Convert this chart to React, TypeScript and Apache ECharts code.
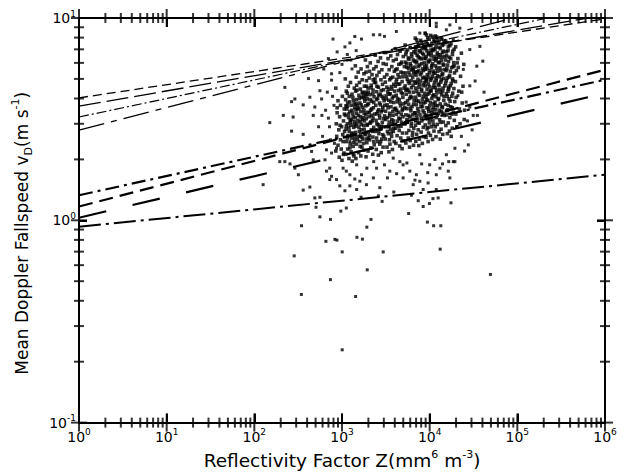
import React, { useEffect, useRef } from 'react';
import * as echarts from 'echarts';

// ---- axis ranges / ticks ----
const xRange = [1, 1e6];
const yRange = [0.1, 10];
const xMajorTicks = [1, 10, 100, 1000, 10000, 100000, 1000000];
const yMajorTicks = [0.1, 1, 10];
const minorMultipliers = [2, 3, 4, 5, 6, 7, 8, 9];
const xDecades = [1, 10, 100, 1000, 10000, 100000];
const yDecades = [0.1, 1];

// ---- power-law reference lines: [Z, v] end points ----
const lineA = [[1, 4.03], [1e6, 9.9]];      // short dashes (top)
const lineB = [[1, 3.67], [6.4e5, 10]];     // long dashes
const lineC = [[1, 3.24], [2.2e5, 10]];     // thin dash-dot
const lineD = [[1, 2.79], [9.0e4, 10]];     // long-short dashes
const lineE = [[1, 1.33], [1e6, 4.95]];     // heavy dash-dot
const lineF = [[1, 1.17], [1e6, 5.55]];     // heavy dashes
const lineG = [[1, 1.03], [1e6, 4.25]];     // heavy long dashes
const lineH = [[1, 0.93], [1e6, 1.68]];     // lowest dash-dot

// ---- observations: [Z (mm^6 m^-3), v_D (m/s)] ----
const sparseLeft = [
  [150,3.04],[126,1.5],[214,3.3],[266,3.86],[277,3.24],[223,4.54],[290,3.98],[361,3.72],[414,5.02],[430,4.06],
  [470,3.3],[490,3.63],[560,4.37],[585,3.98],[345,0.94],[285,0.667],[344,0.43],[505,1.16],[560,1.04],[740,1.01],
  [655,0.787],[738,0.509],[790,7.87],[760,4.93],[266,2.76],[361,2.66],[450,2.19],[223,1.95],[195,1.95],[255,1.9],
  [290,1.81],[318,1.68],[361,1.41],[430,1.46],[490,1.29],[560,1.3],[665,1.75],[725,1.81],[760,1.65],[725,1.59],
  [640,1.99],[470,1.99],[665,2.23],[620,5.6],[700,6.3],[540,4.9],[760,5.3],[650,3.5],[720,2.9],[600,2.6],
  [780,4.1],[820,2.4],[700,3.2],[760,2.15],[540,2.9],[680,4.3],[810,3.7],[590,3.3],[740,2.5]
];
const sparseLow = [
  [865,1.59],[945,1.48],[1080,1.4],[1230,1.48],[1470,1.42],[1600,1.56],[1670,1.68],[1230,1.68],[1030,1.81],[1470,1.88],
  [1920,1.81],[970,1.11],[1120,1.15],[1920,0.925],[1340,2.11],[1030,2.11],[865,2.27],[1230,2.45],[1600,2.59],
  [2870,1.24],[5760,1.08],[8430,1.17],[9420,0.98],[11100,0.94],[13400,0.94],[17500,1.22],[2140,1.01],[9940,1.21],[12500,1.29],[10900,1.28],
  [2280,1.62],[2480,1.81],[3050,1.88],[3510,1.75],[4570,1.95],[4980,1.62],[5940,1.75],[7050,1.68],[7720,1.56],[9600,1.53],
  [11900,1.68],[13100,1.81],[16300,1.75],[17000,1.62],[18600,1.95],[11900,1.42],[8430,1.42],[6490,1.5],[2700,1.45],[19400,2.27],
  [15500,2.11],[4980,1.88],[3840,2.03],[7720,2.11],[10000,1.88],
  [1005,0.698],[2950,0.698],[13180,0.72],[1480,0.824],[1710,0.807],[830,0.805],[875,0.798],[1940,0.569],[1430,0.42],[1005,0.229],[49300,0.54],
  [1120,1.75],[1400,1.6],[1900,1.5],[2300,1.95],[3300,1.62],[4200,1.7],[5500,1.92],[6800,1.58],[8100,1.9],
  [9500,1.72],[11500,2.0],[14000,1.9],[16500,1.95],[3900,1.38],[6200,1.33],[7400,1.25],[2600,1.32],[1650,1.3]
];
const sparseHigh = [
  [945,5.37],[1230,7.53],[1670,7.87],[2700,8.26],[4170,8.58],[8880,8.42],[11900,9.07],[17000,9.24],[28700,6.98],[37400,7.24],
  [40400,6.12],[33000,4.88],[41700,4.3],[28700,3.63],[35000,3.3],[20300,2.9],[27600,2.36],[19400,1.95],[2280,8.26],[3050,8.11],
  [7720,8.42],[11900,9.42],[15500,8.74],[22100,8.91],[18600,7.81],[34500,5.78],[24200,5.57],[28700,4.62],[21000,4.13],[26100,3.84],
  [31400,3.3],[880,6.8],[1000,5.9],[1150,6.6],[1300,5.6],[1450,6.9],[1080,7.2],[1400,8.1],[1260,6.2],[23000,2.6],
  [27000,3.1],[25000,2.2],[30500,2.8]
];
const coreA = [
  [850,4.5],[1010,4.1],[900,3.9],[960,3.7],[1060,3.55],[880,3.4],[940,3.25],[1040,3.1],[860,3.0],[990,2.9],
  [920,2.8],[1070,2.75],[870,2.6],[960,2.5],[1030,2.45],[900,2.35],[980,2.25],[850,2.2],[1050,2.15],[930,2.05],
  [1000,1.98],[880,3.6],[1065,3.35],[950,2.95],[1020,2.65],
  [1090,5.0],[1250,4.8],[1180,4.6],[1380,4.5],[1120,4.35],[1300,4.2],[1210,4.1],[1100,3.95],[1350,3.9],[1160,3.8],
  [1270,3.7],[1400,3.62],[1130,3.55],[1230,3.45],[1330,3.38],[1095,3.3],[1190,3.22],[1290,3.15],[1390,3.08],[1150,3.0],
  [1260,2.95],[1360,2.88],[1110,2.82],[1210,2.75],[1320,2.7],[1170,2.62],[1280,2.55],[1390,2.5],[1120,2.45],[1240,2.38],
  [1340,2.32],[1160,2.25],[1270,2.18],[1100,2.12],[1370,2.08],[1200,2.02],[1310,1.96],[1150,3.65],[1250,3.05],[1400,2.6]
];
const coreB = [
  [1420,5.8],[1650,5.6],[1530,5.4],[1780,5.3],[1450,5.1],[1700,4.95],[1580,4.8],[1470,4.65],[1800,4.6],[1620,4.45],
  [1430,4.35],[1740,4.25],[1560,4.15],[1680,4.05],[1460,3.95],[1820,3.88],[1600,3.8],[1500,3.7],[1720,3.62],[1440,3.52],
  [1640,3.45],[1790,3.38],[1540,3.3],[1420,3.22],[1700,3.15],[1610,3.08],[1480,3.0],[1760,2.95],[1560,2.88],[1660,2.8],
  [1430,2.72],[1810,2.68],[1520,2.6],[1730,2.52],[1600,2.45],[1460,2.38],[1690,2.3],[1780,2.22],[1550,2.16],[1640,2.08],
  [1440,2.02],[1750,4.1],[1510,3.55],[1630,2.65],[1800,3.1],
  [1850,6.2],[2100,6.0],[1950,5.75],[2300,5.6],[1880,5.4],[2200,5.25],[2050,5.05],[1900,4.9],[2340,4.8],[2150,4.65],
  [1980,4.5],[2260,4.4],[1860,4.3],[2080,4.18],[2320,4.08],[1940,3.98],[2190,3.88],[2010,3.78],[1870,3.68],[2280,3.6],
  [2120,3.5],[1960,3.42],[2350,3.35],[2040,3.25],[1890,3.18],[2220,3.1],[2090,3.02],[1930,2.95],[2300,2.88],[2160,2.8],
  [1990,2.72],[1860,2.65],[2250,2.58],[2070,2.5],[1920,2.42],[2330,2.36],[2130,2.28],[1980,2.2],[2240,2.12],[1880,2.06],
  [2060,5.45],[2270,4.95],[1920,4.2],[2180,3.3],[2000,2.55]
];
const coreC = [
  [2400,6.55],[2750,6.35],[2580,6.1],[2950,5.95],[2450,5.75],[2850,5.55],[2650,5.4],[2500,5.2],[3050,5.1],[2780,4.95],
  [2420,4.8],[2900,4.7],[2600,4.55],[2980,4.42],[2480,4.32],[2720,4.2],[2860,4.1],[2550,4.0],[3020,3.9],[2680,3.8],
  [2430,3.7],[2920,3.62],[2620,3.52],[2800,3.44],[2500,3.36],[3060,3.28],[2700,3.2],[2450,3.12],[2880,3.05],[2580,2.97],
  [2960,2.9],[2760,2.82],[2410,2.75],[2640,2.68],[3000,2.6],[2840,2.52],[2530,2.45],[2700,2.38],[2940,2.3],[2460,2.24],
  [2800,2.16],[2600,2.1],[2380,5.0],[3080,3.7],[2660,2.9],
  [3150,6.75],[3600,6.5],[3350,6.3],[3850,6.15],[3200,5.9],[3700,5.75],[3450,5.55],[3950,5.45],[3250,5.25],[3800,5.1],
  [3500,4.95],[3120,4.82],[3900,4.7],[3650,4.58],[3380,4.45],[3980,4.35],[3550,4.22],[3180,4.12],[3750,4.02],[3420,3.92],
  [3880,3.82],[3280,3.72],[3620,3.64],[3960,3.55],[3150,3.46],[3500,3.38],[3820,3.3],[3300,3.22],[3700,3.14],[3460,3.06],
  [3920,2.98],[3220,2.9],[3580,2.82],[3850,2.75],[3380,2.68],[3680,2.6],[3120,2.52],[3940,2.45],[3520,2.38],[3260,2.3],
  [3760,2.24],[3430,2.18],[3600,5.05],[3330,4.3],[3870,3.1]
];
const coreD = [
  [4050,7.05],[4600,6.85],[4300,6.6],[5000,6.45],[4150,6.25],[4800,6.05],[4450,5.9],[5150,5.75],[4100,5.55],[4700,5.4],
  [4350,5.25],[4950,5.12],[4200,4.98],[4850,4.85],[4550,4.72],[4050,4.6],[5100,4.5],[4400,4.38],[4750,4.28],[4150,4.15],
  [4950,4.05],[4500,3.95],[4250,3.85],[5050,3.76],[4650,3.68],[4080,3.58],[4850,3.5],[4400,3.42],[4180,3.34],[4950,3.25],
  [4600,3.17],[4300,3.09],[5120,3.0],[4720,2.92],[4050,2.85],[4500,2.78],[4900,2.7],[4250,2.62],[4680,2.55],[5000,2.47],
  [4120,2.4],[4550,2.33],[4850,2.26],[4350,4.7],[4750,3.35],
  [5250,7.35],[6000,7.15],[5600,6.95],[6600,6.8],[5350,6.6],[6250,6.45],[5800,6.25],[6700,6.1],[5450,5.95],[6100,5.8],
  [5700,5.65],[6500,5.5],[5300,5.35],[5950,5.22],[6400,5.1],[5550,4.98],[6750,4.85],[5850,4.75],[5250,4.62],[6200,4.52],
  [5650,4.4],[6550,4.3],[5400,4.2],[6050,4.1],[5900,4.0],[6650,3.9],[5300,3.82],[5750,3.74],[6300,3.65],[5500,3.56],
  [6100,3.48],[6700,3.4],[5350,3.32],[5950,3.24],[6450,3.16],[5600,3.08],[5250,3.0],[6150,2.92],[6600,2.85],[5800,2.78],
  [5450,2.7],[6350,2.62],[5700,2.55],[6000,2.48],[5350,2.41],[6550,2.35],[5900,2.3],[6250,5.55],[5500,4.45],[6400,2.72]
];
const coreE = [
  [6850,7.95],[7900,7.75],[7300,7.55],[8600,7.4],[7000,7.2],[8200,7.05],[7600,6.9],[6900,6.72],[8500,6.58],[7400,6.42],
  [8000,6.28],[7100,6.12],[8700,6.0],[7700,5.86],[6800,5.72],[8300,5.6],[7500,5.48],[8050,5.35],[7000,5.22],[8650,5.1],
  [7350,4.98],[7850,4.88],[6900,4.76],[8400,4.66],[7550,4.55],[8100,4.45],[7150,4.35],[8750,4.25],[7700,4.15],[6950,4.06],
  [8250,3.97],[7450,3.88],[8550,3.8],[7050,3.72],[7950,3.64],[7300,3.56],[8400,3.48],[6850,3.4],[7750,3.32],[8700,3.25],
  [7200,3.17],[8150,3.1],[7600,3.02],[6900,2.95],[8450,2.88],[7400,2.8],[8000,2.73],[7100,2.66],[8600,2.59],[7650,2.52],
  [6950,2.46],[8250,2.4],[7500,2.34],[8800,5.75],[7200,5.42],
  [8900,8.4],[10300,8.2],[9500,8.0],[11200,7.85],[9100,7.65],[10600,7.5],[9800,7.32],[8850,7.15],[11000,7.02],[9300,6.88],
  [10400,6.74],[9700,6.6],[11300,6.46],[9000,6.32],[10100,6.2],[9600,6.06],[10800,5.94],[9200,5.82],[10500,5.7],[8950,5.58],
  [11100,5.46],[9900,5.35],[9400,5.24],[10700,5.13],[9050,5.02],[10200,4.92],[11350,4.82],[9650,4.72],[8900,4.62],[10900,4.53],
  [9350,4.44],[10350,4.35],[9850,4.26],[11150,4.17],[9100,4.08],[10600,4.0],[9550,3.92],[8950,3.84],[11000,3.76],[10050,3.68],
  [9300,3.6],[10700,3.52],[9750,3.45],[11300,3.38],[9050,3.31],[10400,3.24],[9500,3.17],[10900,3.1],[9900,3.03],[8900,2.96],
  [10500,2.9],[9350,2.83],[11200,2.76],[9700,2.7],[10200,2.63],[9100,2.57],[10800,2.51],[9600,2.45],[10350,6.95],[9250,4.95]
];
const coreF = [
  [11600,8.15],[13500,7.98],[12400,7.8],[14600,7.65],[11800,7.48],[13900,7.32],[12800,7.16],[11500,7.0],[14400,6.86],[12200,6.72],
  [13300,6.58],[14800,6.44],[11900,6.3],[13600,6.18],[12600,6.05],[14200,5.92],[11700,5.8],[13100,5.68],[14700,5.56],[12300,5.45],
  [11500,5.34],[13800,5.23],[12900,5.12],[14300,5.02],[11900,4.92],[13400,4.82],[12500,4.72],[14900,4.62],[11600,4.53],[13000,4.44],
  [14100,4.35],[12100,4.26],[13700,4.17],[11800,4.08],[12700,4.0],[14500,3.92],[11500,3.84],[13200,3.76],[12300,3.68],[14000,3.6],
  [11700,3.52],[13600,3.44],[12600,3.37],[14700,3.3],[11900,3.22],[13000,3.14],[14300,3.06],[12200,2.98],[11600,2.9],[13500,2.82],
  [12800,2.74],[14100,2.66],[11800,2.59],[13200,2.52],[12500,6.4],
  [15200,7.7],[17500,7.45],[16300,7.2],[19000,7.0],[15500,6.8],[18200,6.6],[16700,6.4],[15100,6.2],[18800,6.02],[16000,5.85],
  [17800,5.68],[15400,5.5],[19200,5.35],[16900,5.2],[15800,5.05],[18400,4.9],[15200,4.76],[17200,4.62],[18900,4.48],[16200,4.35],
  [15500,4.22],[17900,4.1],[16600,3.98],[19300,3.86],[15100,3.75],[17400,3.64],[16000,3.52],[18600,3.42],[15600,3.32],[17000,3.22],
  [19100,3.12],[16300,3.03],[15300,2.94],[18100,2.85],[16800,2.76],[15900,2.68],[17600,2.6],[19000,5.8],[16400,4.55],[18000,3.35],
  [19800,7.2],[23000,6.7],[21000,6.3],[24500,5.9],[20200,5.5],[22500,5.15],[19700,4.85],[24000,4.6],[21500,4.35],[20000,4.05],
  [23500,3.8],[21800,3.55],[19900,3.35],[24800,3.15],[22200,3.0],[20500,2.9],[23200,4.3],[21200,5.7],[25000,3.5],[20600,6.0]
];
const coreFillLeft = [
  [1150,4.25],[1330,4.05],[1220,3.85],[1380,3.75],[1110,3.68],[1300,3.5],[1190,3.35],[1340,3.25],[1240,3.12],[1120,2.92],
  [1380,2.98],[1200,2.86],[1290,2.66],[1150,2.55],[1360,2.42],[1230,2.28],
  [1480,4.4],[1700,4.3],[1580,4.0],[1800,4.0],[1450,3.78],[1660,3.72],[1560,3.58],[1780,3.5],[1470,3.38],[1620,3.25],
  [1740,3.22],[1520,3.12],[1650,2.98],[1440,2.92],[1790,2.82],[1580,2.75],[1690,2.58],[1500,2.5],[1760,2.4],[1610,2.32],
  [1900,4.6],[2150,4.52],[2000,4.3],[2250,4.22],[1880,4.12],[2100,3.95],[2300,3.82],[1960,3.72],[2180,3.55],[2050,3.4],
  [1870,3.32],[2260,3.2],[2130,3.06],[1950,2.98],[2230,2.75],[2060,2.62],[1900,2.52],[2300,2.45],
  [2500,4.6],[2800,4.38],[2620,4.15],[2950,4.02],[2470,3.95],[2740,3.72],[2900,3.5],[2550,3.45],[2680,3.3],[3000,3.18],
  [2500,3.0],[2820,2.92],[2620,2.78],[2920,2.65],[2480,2.55],[2760,2.45],
  [3250,4.55],[3700,4.45],[3450,4.2],[3900,4.1],[3200,3.98],[3600,3.85],[3350,3.6],[3800,3.45],[3500,3.28],[3150,3.15],
  [3750,3.0],[3400,2.95],[3900,2.85],[3300,2.75],[3650,2.7],[3480,2.5]
];
const coreFillRight = [
  [4250,5.6],[4700,5.95],[4500,5.1],[4950,5.35],[4150,4.82],[4650,4.45],[4900,4.22],[4300,4.0],[4600,3.8],[4950,3.55],
  [4200,3.5],[4450,3.2],[4800,3.05],[4400,2.9],
  [5400,6.8],[6200,6.65],[5700,6.35],[6500,6.2],[5300,6.05],[6000,5.95],[5500,5.72],[6400,5.65],[5800,5.4],[6600,5.3],
  [5400,5.15],[6150,4.9],[5700,4.85],[6450,4.65],[5350,4.4],[5900,4.3],[6300,4.05],[5600,3.9],[6550,3.75],[5200,3.6],
  [6050,3.58],[5750,3.3],[6400,3.32],[5500,3.15],[6200,3.02],
  [7100,7.8],[8100,7.6],[7500,7.35],[8500,7.2],[6900,7.0],[7800,6.8],[8300,6.7],[7200,6.55],[7700,6.35],[8650,6.3],
  [7050,6.0],[8100,5.95],[7450,5.75],[8500,5.5],[6900,5.4],[7800,5.25],[8300,5.05],[7250,4.8],[8650,4.8],[7650,4.7],
  [6950,4.5],[8050,4.35],[7400,4.22],[8500,4.1],[7100,3.9],[7900,3.8],[8300,3.65],[7500,3.45],[8650,3.4],[7050,3.3],
  [8000,3.2],[7350,3.05],
  [9200,8.25],[10800,8.05],[9900,7.85],[11300,7.65],[9400,7.45],[10300,7.3],[9000,7.05],[10900,6.9],[9700,6.72],[10400,6.5],
  [9100,6.45],[11200,6.25],[9800,6.12],[10600,5.82],[9300,5.62],[10100,5.5],[11000,5.32],[9600,5.1],[10500,5.02],[9100,4.85],
  [11200,4.65],[9900,4.58],[10300,4.4],[9500,4.2],[10800,4.12],[9200,3.95],[10200,3.82],[11100,3.62],[9700,3.55],[10500,3.4],
  [9300,3.28],[10100,3.15],[11000,2.98],[9600,2.88],
  [12000,8.05],[13800,7.85],[12700,7.55],[14400,7.4],[11800,7.2],[13200,7.05],[14000,6.75],[12400,6.6],[13700,6.4],[11700,6.15],
  [12900,6.0],[14500,5.85],[12100,5.65],[13400,5.5],[14100,5.3],[12300,5.18],[11800,5.05],[13600,4.95],[12800,4.65],[14200,4.5],
  [12000,4.4],[13300,4.3],[14600,4.1],[12500,3.95],[11700,3.7],[13800,3.65],[12900,3.5],[14200,3.38],[12200,3.3],[13300,3.05],
  [15800,7.55],[17000,7.3],[16200,6.9],[18300,6.85],[15600,6.5],[17400,6.3],[16400,6.1],[18500,5.75],[15700,5.62],[17200,5.45],
  [16600,5.1],[18200,5.0],[15500,4.9],[17600,4.75],[16500,4.45],[18300,4.25],[15900,4.1],[17100,3.88],[16300,3.7],[18100,3.6],
  [15700,3.48]
];

const FONT = 'DejaVu Sans';

export default function App() {
  const ref = useRef<HTMLDivElement>(null);
  useEffect(() => {
    if (!ref.current) return;
    const chart = echarts.init(ref.current, undefined, { renderer: 'svg' });

    const xMinor: number[] = [];
    xDecades.forEach((d) => minorMultipliers.forEach((m) => xMinor.push(m * d)));
    const yMinor: number[] = [];
    yDecades.forEach((d) => minorMultipliers.forEach((m) => yMinor.push(+(m * d).toPrecision(3))));

    const tickFmt = (v: number) => {
      const e = Math.round(Math.log10(v));
      return `{b|10}{s|${e}}`;
    };
    const tickRich = {
      b: { fontFamily: FONT, fontSize: 14, color: '#000', lineHeight: 18, verticalAlign: 'middle' },
      s: { fontFamily: FONT, fontSize: 9, color: '#000', lineHeight: 9, verticalAlign: 'top' },
    };
    const frameLine = { show: true, onZero: false, lineStyle: { color: '#000', width: 2 } };
    const majorTick = { show: true, inside: true, length: 9, lineStyle: { color: '#000', width: 2 } };

    const dashed = (data: number[][], width: number, type: number[]) => ({
      type: 'line', data, symbol: 'none', showSymbol: false, clip: true, z: 3,
      lineStyle: { color: '#000', width, type },
    });

    // tick marks as small bars anchored on the frame, placed by the axes' own scales
    const tickItems = (side: 'bottom' | 'top' | 'left' | 'right') => {
      const out: any[] = [];
      const add = (v: number, len: number) => {
        if (side === 'bottom') out.push({ value: [v, yRange[0]], symbolSize: [2, len * 2], symbolOffset: [0, 0] });
        if (side === 'top') out.push({ value: [v, yRange[1]], symbolSize: [2, len * 2], symbolOffset: [0, 0] });
        if (side === 'left') out.push({ value: [xRange[0], v], symbolSize: [len * 2, 2], symbolOffset: [0, 0] });
        if (side === 'right') out.push({ value: [xRange[1], v], symbolSize: [len * 2, 2], symbolOffset: [0, 0] });
      };
      if (side === 'bottom' || side === 'top') {
        xMajorTicks.forEach((v) => add(v, 9));
        xMinor.forEach((v) => add(v, 5));
      } else {
        yMajorTicks.forEach((v) => add(v, 8));
        yMinor.forEach((v) => add(v, 5));
      }
      return out;
    };
    const tickSeries = (side: 'bottom' | 'top' | 'left' | 'right') => ({
      type: 'scatter', data: tickItems(side), symbol: 'rect', z: 6, silent: true, clip: true,
      itemStyle: { color: '#000' },
    });

    const sparsePoints = [...sparseLeft, ...sparseLow, ...sparseHigh];
    const corePoints = [...coreA, ...coreB, ...coreC, ...coreD, ...coreE, ...coreF, ...coreFillLeft, ...coreFillRight];

    const nameRichX = {
      n: { fontFamily: FONT, fontSize: 18.5, color: '#000', lineHeight: 24, verticalAlign: 'middle' },
      s: { fontFamily: FONT, fontSize: 11, color: '#000', lineHeight: 11, verticalAlign: 'top' },
    };
    const nameRichY = {
      n: { fontFamily: FONT, fontSize: 17, color: '#000', lineHeight: 24, verticalAlign: 'middle' },
      s: { fontFamily: FONT, fontSize: 11, color: '#000', lineHeight: 11, verticalAlign: 'top' },
      d: { fontFamily: FONT, fontSize: 11, color: '#000', lineHeight: 11, verticalAlign: 'bottom' },
    };

    chart.setOption({
      animation: false,
      backgroundColor: '#fff',
      grid: { left: 79, top: 18, width: 526, height: 410, containLabel: false },
      xAxis: [
        {
          type: 'log', min: xRange[0], max: xRange[1], position: 'bottom',
          axisLine: frameLine, axisTick: majorTick, splitLine: { show: false },
          axisLabel: { formatter: tickFmt, rich: tickRich, margin: 5 },
          name: '{n|Reflectivity Factor Z(mm}{s|6}{n| m}{s|-3}{n|)}',
          nameLocation: 'middle', nameGap: 22, nameTextStyle: { rich: nameRichX },
        },
        {
          type: 'log', min: xRange[0], max: xRange[1], position: 'top',
          axisLine: frameLine, axisTick: majorTick, axisLabel: { show: false }, splitLine: { show: false },
        },
      ],
      yAxis: [
        {
          type: 'log', min: yRange[0], max: yRange[1], position: 'left',
          axisLine: frameLine, axisTick: { ...majorTick, length: 8 }, splitLine: { show: false },
          axisLabel: { formatter: tickFmt, rich: tickRich, margin: 3 },
          name: '{n|Mean Doppler Fallspeed v}{d|D}{n|(m s}{s|-1}{n|)}',
          nameLocation: 'middle', nameGap: 45, nameRotate: 90,
          nameTextStyle: { rich: nameRichY, padding: [0, 26, 0, 0] },
        },
        {
          type: 'log', min: yRange[0], max: yRange[1], position: 'right',
          axisLine: frameLine, axisTick: { ...majorTick, length: 8 }, axisLabel: { show: false }, splitLine: { show: false },
        },
      ],
      series: [
        {
          type: 'scatter', data: sparsePoints, symbol: 'rect', symbolSize: 3, z: 2,
          itemStyle: { color: '#000' },
        },
        {
          type: 'scatter', data: corePoints, symbol: 'rect', symbolSize: 3.6, z: 2,
          itemStyle: { color: '#000' },
        },
        dashed(lineA, 1.3, [9, 5]),
        dashed(lineB, 1.3, [22, 6]),
        dashed(lineC, 1.2, [10, 3, 2, 3]),
        dashed(lineD, 1.3, [26, 7, 6, 7]),
        dashed(lineE, 2.2, [14, 5, 3, 5]),
        dashed(lineF, 2.2, [14, 7]),
        dashed(lineG, 2.2, [28, 27]),
        dashed(lineH, 2.0, [22, 5, 3, 5]),
        tickSeries('bottom'),
        tickSeries('top'),
        tickSeries('left'),
        tickSeries('right'),
      ],
    });

    return () => chart.dispose();
  }, []);
  return <div ref={ref} style={{ position: 'fixed', left: 0, top: 0, width: 630, height: 475, background: '#fff' }} />;
}
